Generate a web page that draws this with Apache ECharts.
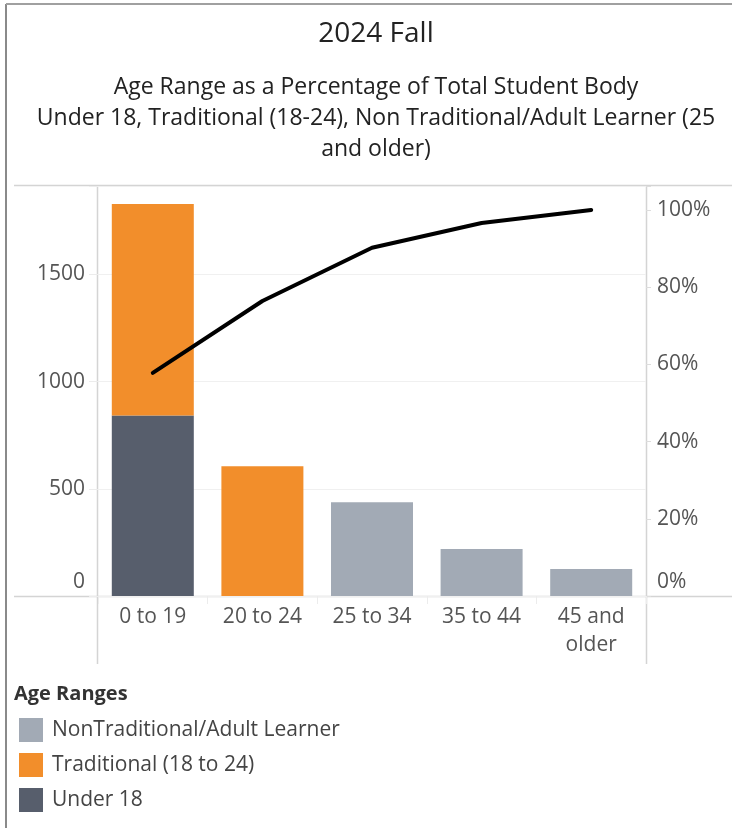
<!DOCTYPE html>
<html>
<head>
<meta charset="utf-8">
<script src="https://cdn.jsdelivr.net/npm/echarts@6/dist/echarts.min.js"></script>
<style>
  html, body { margin: 0; padding: 0; background: #fff; }
  #chart { width: 732px; height: 828px; }
</style>
</head>
<body>
<div id="chart"></div>
<script>
// categories and values
const ageRanges = ['0 to 19', '20 to 24', '25 to 34', '35 to 44', '45 and\nolder'];
const under18 = [842, '-', '-', '-', '-'];
const traditional = [986, 605, '-', '-', '-'];
const nonTraditional = ['-', '-', 437, 219, 126];
const cumulativePct = [0.578, 0.764, 0.902, 0.966, 1.0];
const leftTicks = [0, 500, 1000, 1500];
const rightTicks = [0, 0.2, 0.4, 0.6, 0.8, 1.0];

const font = '"Open Sans", sans-serif';
const frameColor = '#d4d4d4';
const labelColor = '#555';

let mychart = echarts.init(document.getElementById('chart'));

let option = {
  animation: false,
  textStyle: { fontFamily: font },
  title: [
    {
      text: '2024 Fall',
      left: 371,
      top: 15,
      textAlign: 'center',
      textStyle: { fontFamily: font, fontSize: 28, fontWeight: 'normal', color: '#222' }
    },
    {
      text: 'Age Range as a Percentage of Total Student Body\nUnder 18, Traditional (18-24), Non Traditional/Adult Learner (25\nand older)',
      left: 371,
      top: 67,
      textAlign: 'center',
      textStyle: { fontFamily: font, fontSize: 23, fontWeight: 'normal', color: '#222', lineHeight: 31 }
    }
  ],
  legend: {
    orient: 'vertical',
    left: 14,
    top: 713,
    icon: 'rect',
    itemWidth: 24,
    itemHeight: 24,
    itemGap: 11,
    data: ['NonTraditional/Adult Learner', 'Traditional (18 to 24)', 'Under 18'],
    textStyle: { fontFamily: font, fontSize: 21, color: '#444', lineHeight: 24, padding: [0, 0, 0, 4] },
    selectedMode: false
  },
  graphic: [
    { type: 'line', shape: { x1: 6, y1: 4, x2: 6, y2: 828 }, style: { stroke: '#8a8a8a', lineWidth: 2 } },
    { type: 'line', shape: { x1: 6, y1: 4, x2: 732, y2: 4 }, style: { stroke: '#a0a0a0', lineWidth: 2 } },
    { type: 'line', shape: { x1: 14, y1: 185.5, x2: 732, y2: 185.5 }, style: { stroke: frameColor, lineWidth: 1.5 } },
    { type: 'line', shape: { x1: 14, y1: 596.5, x2: 732, y2: 596.5 }, style: { stroke: frameColor, lineWidth: 1.5 } },
    { type: 'line', shape: { x1: 97.5, y1: 185, x2: 97.5, y2: 664 }, style: { stroke: frameColor, lineWidth: 1.5 } },
    { type: 'line', shape: { x1: 646.5, y1: 185, x2: 646.5, y2: 664 }, style: { stroke: frameColor, lineWidth: 1.5 } },
    {
      type: 'text',
      left: 14,
      top: 684,
      style: { text: 'Age Ranges', fontFamily: font, fontSize: 20, fontWeight: 'bold', fill: '#333' }
    }
  ],
  grid: { left: 98, right: 86, top: 186, bottom: 232, containLabel: false },
  xAxis: {
    type: 'category',
    data: ageRanges,
    axisLine: { show: false },
    axisTick: { show: true, alignWithLabel: false, length: 8, lineStyle: { color: '#ececec' } },
    axisLabel: { fontFamily: font, fontSize: 21, color: labelColor, margin: 7, lineHeight: 28 }
  },
  yAxis: [
    {
      type: 'value',
      min: 0,
      max: 1912,
      interval: 500,
      axisLine: { show: false },
      axisTick: { show: true, length: 9, lineStyle: { color: '#ececec' } },
      splitLine: { show: true, lineStyle: { color: '#f0f0f0', width: 1 } },
      showMaxLabel: false,
      axisLabel: {
        fontFamily: font, fontSize: 21, color: labelColor, margin: 13,
        verticalAlignMinLabel: 'bottom',
        formatter: function (v) {
          if (v === 0) return '{z|0}';
          return leftTicks.indexOf(v) >= 0 ? String(v) : '';
        },
        rich: { z: { fontFamily: font, fontSize: 21, color: labelColor, padding: [0, 0, 3, 0] } }
      }
    },
    {
      type: 'value',
      min: 0,
      max: 1.062,
      interval: 0.2,
      position: 'right',
      axisLine: { show: false },
      axisTick: { show: true, length: 5, lineStyle: { color: '#dddddd' } },
      splitLine: { show: false },
      showMaxLabel: false,
      axisLabel: {
        fontFamily: font, fontSize: 21, color: labelColor, margin: 11,
        verticalAlignMinLabel: 'bottom',
        formatter: function (v) {
          let hit = rightTicks.find(t => Math.abs(t - v) < 1e-6);
          if (hit === undefined) return '';
          if (hit === 0) return '{z|0%}';
          return Math.round(hit * 100) + '%';
        },
        rich: { z: { fontFamily: font, fontSize: 21, color: labelColor, padding: [0, 0, 3, 0] } }
      }
    }
  ],
  series: [
    {
      name: 'Under 18',
      type: 'bar',
      stack: 'age',
      barWidth: 82,
      data: under18,
      itemStyle: { color: '#575e6c' }
    },
    {
      name: 'Traditional (18 to 24)',
      type: 'bar',
      stack: 'age',
      barWidth: 82,
      data: traditional,
      itemStyle: { color: '#f28e2b' }
    },
    {
      name: 'NonTraditional/Adult Learner',
      type: 'bar',
      stack: 'age',
      barWidth: 82,
      data: nonTraditional,
      itemStyle: { color: '#a2aab5' }
    },
    {
      name: 'Cumulative %',
      type: 'line',
      yAxisIndex: 1,
      data: cumulativePct,
      showSymbol: false,
      symbol: 'none',
      lineStyle: { color: '#000', width: 4, cap: 'round', join: 'round' },
      z: 5
    }
  ]
};

mychart.setOption(option);
</script>
</body>
</html>
